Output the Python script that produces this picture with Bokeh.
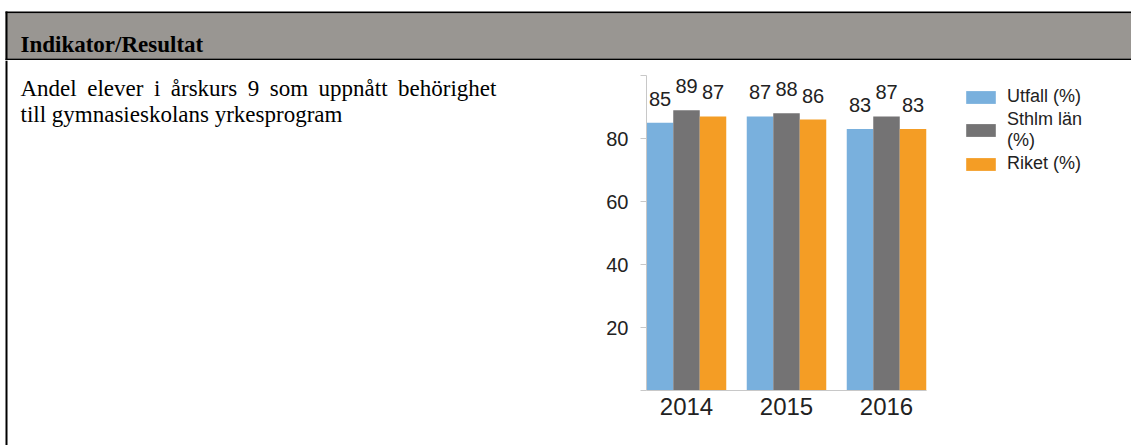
from bokeh.plotting import figure
from bokeh.layouts import column, row
from bokeh.models import (Range1d, FixedTicker, Label, Legend, LegendItem, ColumnDataSource)
from bokeh.embed import file_html
from bokeh.resources import INLINE
from bokeh.core.properties import value

# ---- data ----
years = ["2014", "2015", "2016"]
series = ["Utfall (%)", "Sthlm län\n(%)", "Riket (%)"]
utfall = [85, 87, 83]
sthlm = [89, 88, 87]
riket = [87, 86, 83]
colors = ["#79b0dd", "#747374", "#f49d25"]
header_text = "Indikator/Resultat"
body_line1 = ["Andel", "elever", "i", "årskurs", "9", "som", "uppnått", "behörighet"]
body_line2 = "till gymnasieskolans yrkesprogram"
y_ticks = [0, 20, 40, 60, 80, 100]

TEXT = "#222222"
AXIS = "#c8c8c8"
W, H = 1131, 445
TOP = 60  # body top (page px)

# Liberation Serif advance widths (1/1000 em), used to space the words of line 1
ADV = {"A": 722, "n": 500, "d": 500, "e": 444, "l": 278, "v": 500, "r": 333, "i": 278,
       "å": 444, "s": 389, "k": 500, "u": 500, "9": 500, "o": 500, "m": 778, "p": 500,
       "t": 278, "b": 500, "h": 500, "ö": 500, "g": 500}

# ---- header figure (page coordinates) ----
hA = figure(width=W, height=TOP, x_range=Range1d(0, W), y_range=Range1d(TOP, 0),
            output_backend="svg", toolbar_location=None, min_border=0,
            x_axis_location=None, y_axis_location=None, outline_line_color=None)
hA.grid.visible = False
hA.quad(left=[5], right=[W + 5], top=[11], bottom=[13], fill_color="black", line_color=None)
hA.quad(left=[5], right=[W + 5], top=[13], bottom=[58], fill_color="#999692", line_color=None)
hA.quad(left=[5], right=[W + 5], top=[58], bottom=[60], fill_color="black", line_color=None)
hA.quad(left=[5], right=[7], top=[11], bottom=[60], fill_color="black", line_color=None)
hA.add_layout(Label(x=20, y=44, text=header_text, text_font="Liberation Serif",
                    text_font_style="bold", text_font_size="23px", text_color="black",
                    text_baseline="alphabetic"))

# ---- body left figure ----
BW = 568
hB = figure(width=BW, height=H - TOP, x_range=Range1d(0, BW), y_range=Range1d(H, TOP),
            output_backend="svg", toolbar_location=None, min_border=0,
            x_axis_location=None, y_axis_location=None, outline_line_color=None)
hB.grid.visible = False
hB.quad(left=[5], right=[7], top=[TOP], bottom=[H], fill_color="black", line_color=None)

fs = 23
space = 10.5
x = 20
for w in body_line1:
    hB.add_layout(Label(x=x, y=88, text=w, text_font="Liberation Serif",
                        text_font_size=f"{fs}px", text_color="black", text_baseline="alphabetic"))
    x += sum(ADV[c] for c in w) / 1000 * fs + space
hB.add_layout(Label(x=20, y=114, text=body_line2, text_font="Liberation Serif",
                    text_font_size=f"{fs}px", text_color="black", text_baseline="alphabetic"))

# ---- chart figure ----
CW = W - BW
LB = 78                      # frame starts at page x 646
frame_w = CW - LB
frame_h = H - TOP
ppu = 3.15                   # pixels per percent (0 at page y 390, 100 at page y 75)
y_lo = -(H - 390) / ppu
y_hi = (390 - TOP) / ppu
p = figure(width=CW, height=frame_h, x_range=Range1d(0.1, 0.1 + frame_w / 100),
           y_range=Range1d(y_lo, y_hi),
           output_backend="svg", toolbar_location=None,
           min_border_left=LB, min_border_right=0, min_border_top=0, min_border_bottom=0,
           outline_line_color=None)
p.grid.visible = False

bw = 0.265
offsets = [-bw, 0.0, bw]
vals = [utfall, sthlm, riket]
renderers = []
for k in range(3):
    xs = [i + 0.5 + offsets[k] for i in range(len(years))]
    src = ColumnDataSource(dict(x=xs, top=vals[k], lbl=[str(v) for v in vals[k]]))
    r = p.vbar(x="x", top="top", width=bw, bottom=0, source=src,
               fill_color=colors[k], line_color=None)
    renderers.append(r)
    p.text(x="x", y="top", text="lbl", source=src, text_align="center",
           text_baseline="alphabetic", y_offset=-24, text_font=value("Liberation Sans"),
           text_font_size="20px", text_color=TEXT)

p.xaxis.fixed_location = 0
p.xaxis.bounds = (0.1, len(years) - 0.1)
p.xaxis.ticker = FixedTicker(ticks=[i + 0.5 for i in range(len(years))])
p.xaxis.major_label_overrides = {i + 0.5: y for i, y in enumerate(years)}
p.xaxis.major_tick_out = 0
p.xaxis.major_tick_in = 0
p.xaxis.minor_tick_out = 0
p.xaxis.minor_tick_in = 0
p.xaxis.axis_line_color = AXIS
p.xaxis.major_label_standoff = 7
p.xaxis.major_label_text_font = "Liberation Sans"
p.xaxis.major_label_text_font_size = "24px"
p.xaxis.major_label_text_color = TEXT

p.yaxis.bounds = (0, 100)
p.yaxis.ticker = FixedTicker(ticks=y_ticks)
p.yaxis.major_label_overrides = {0: "", 100: ""}
p.yaxis.major_tick_out = 6
p.yaxis.major_tick_in = 0
p.yaxis.minor_tick_out = 0
p.yaxis.minor_tick_in = 0
p.yaxis.axis_line_color = AXIS
p.yaxis.major_tick_line_color = AXIS
p.yaxis.major_label_standoff = 12
p.yaxis.major_label_text_font = "Liberation Sans"
p.yaxis.major_label_text_font_size = "20px"
p.yaxis.major_label_text_color = TEXT

legend = Legend(items=[LegendItem(label=series[k], renderers=[renderers[k]]) for k in range(3)],
                location=(316, H - 174), glyph_width=37, glyph_height=16, label_standoff=8,
                spacing=2, padding=0, margin=0, border_line_color=None,
                background_fill_alpha=0, label_text_font="Liberation Sans",
                label_text_font_size="18px", label_text_color=TEXT)
p.add_layout(legend)

layout = column(hA, row(hB, p))
open("out.html", "w").write(file_html(layout, INLINE))
